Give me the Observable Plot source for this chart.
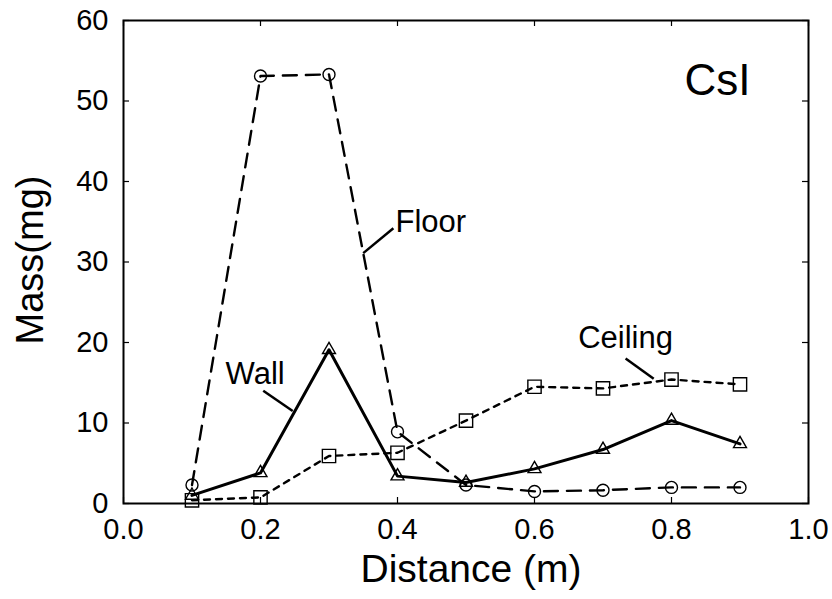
<!DOCTYPE html>
<html><head><meta charset="utf-8">
<script src="https://cdn.jsdelivr.net/npm/d3@7"></script>
<script src="https://cdn.jsdelivr.net/npm/@observablehq/plot@0.6"></script>
<style>body{margin:0;background:#fff}</style>
</head><body><div id="chart"></div>
<script>
const distances = [0.1, 0.2, 0.3, 0.4, 0.5, 0.6, 0.7, 0.8, 0.9];
const floorMass = [2.3, 53.1, 53.3, 8.9, 2.3, 1.5, 1.65, 2.0, 2.0];
const wallMass = [1.0, 3.8, 19.1, 3.4, 2.6, 4.3, 6.7, 10.3, 7.4];
const ceilingMass = [0.4, 0.75, 5.9, 6.3, 10.3, 14.5, 14.3, 15.4, 14.8];
const xTicks = [0, 0.2, 0.4, 0.6, 0.8, 1.0];
const yTicks = [0, 10, 20, 30, 40, 50, 60];
const seriesLabels = [
  {text: "Floor", x: 0.397, y: 34.9, anchor: "start", x1: 0.350, y1: 31.1, x2: 0.394, y2: 34.2},
  {text: "Wall", x: 0.149, y: 16.1, anchor: "start", x1: 0.204, y1: 14.0, x2: 0.247, y2: 11.5},
  {text: "Ceiling", x: 0.733, y: 20.5, anchor: "middle", x1: 0.733, y1: 18.0, x2: 0.774, y2: 15.5}
];
const panelLabel = {text: "CsI", x: 0.867, y: 52.5};

const mk = (vals) => distances.map((d, i) => ({x: d, y: vals[i]}));
const floorRows = mk(floorMass), wallRows = mk(wallMass), ceilRows = mk(ceilingMass);

const W = 832, H = 599, mL = 123, mR = 24, mT = 20, mB = 96;
const fw = W - mL - mR, fh = H - mT - mB, tk = 6;

const chart = Plot.plot({
  width: W, height: H,
  marginLeft: mL, marginRight: mR, marginTop: mT, marginBottom: mB,
  style: {fontFamily: "'Liberation Sans', Arial, Helvetica, sans-serif", background: "white", color: "black"},
  x: {domain: [0, 1]},
  y: {domain: [0, 60]},
  marks: [
    Plot.axisX(xTicks, {tickSize: 0, tickPadding: 15, fontSize: 29, tickFormat: d => d.toFixed(1), label: null}),
    Plot.axisY(yTicks, {tickSize: 0, tickPadding: 15, fontSize: 29, tickFormat: d => String(d), label: null}),
    Plot.ruleX(xTicks, {x: d => d, insetTop: fh - tk, stroke: "black", strokeWidth: 1.2}),
    Plot.ruleX(xTicks, {x: d => d, insetBottom: fh - tk, stroke: "black", strokeWidth: 1.2}),
    Plot.ruleY(yTicks, {y: d => d, insetRight: fw - tk, stroke: "black", strokeWidth: 1.2}),
    Plot.ruleY(yTicks, {y: d => d, insetLeft: fw - tk, stroke: "black", strokeWidth: 1.2}),
    Plot.line(floorRows, {x: "x", y: "y", stroke: "black", strokeWidth: 2.4, strokeDasharray: "14,9"}),
    Plot.line(wallRows, {x: "x", y: "y", stroke: "black", strokeWidth: 3}),
    Plot.line(ceilRows, {x: "x", y: "y", stroke: "black", strokeWidth: 2.4, strokeDasharray: "6,6"}),
    Plot.dot(floorRows, {x: "x", y: "y", symbol: "circle", r: 6, stroke: "black", strokeWidth: 1.4, fill: "none"}),
    Plot.dot(wallRows, {x: "x", y: "y", symbol: "triangle", r: 4.8, stroke: "black", strokeWidth: 1.4, fill: "none"}),
    Plot.dot(ceilRows, {x: "x", y: "y", symbol: "square", r: 7.5, stroke: "black", strokeWidth: 1.4, fill: "none"}),
    Plot.link(seriesLabels, {x1: "x1", y1: "y1", x2: "x2", y2: "y2", stroke: "black", strokeWidth: 2.5}),
    Plot.text(seriesLabels.filter(d => d.anchor === "start"), {x: "x", y: "y", text: "text", textAnchor: "start", lineAnchor: "middle", fontSize: 31, fill: "black"}),
    Plot.text(seriesLabels.filter(d => d.anchor === "middle"), {x: "x", y: "y", text: "text", textAnchor: "middle", lineAnchor: "middle", fontSize: 31, fill: "black"}),
    Plot.text([panelLabel], {x: "x", y: "y", text: "text", lineAnchor: "middle", fontSize: 44, fill: "black"}),
    Plot.text(["Distance (m)"], {frameAnchor: "bottom", textAnchor: "middle", lineAnchor: "middle", dx: 5, dy: 66, fontSize: 39, fill: "black"}),
    Plot.text(["Mass(mg)"], {frameAnchor: "left", textAnchor: "middle", lineAnchor: "middle", dx: -93, dy: -2, rotate: -90, fontSize: 38, fill: "black"}),
    Plot.frame({stroke: "black", strokeWidth: 2})
  ]
});
document.getElementById("chart").append(chart);
</script>
</body></html>
